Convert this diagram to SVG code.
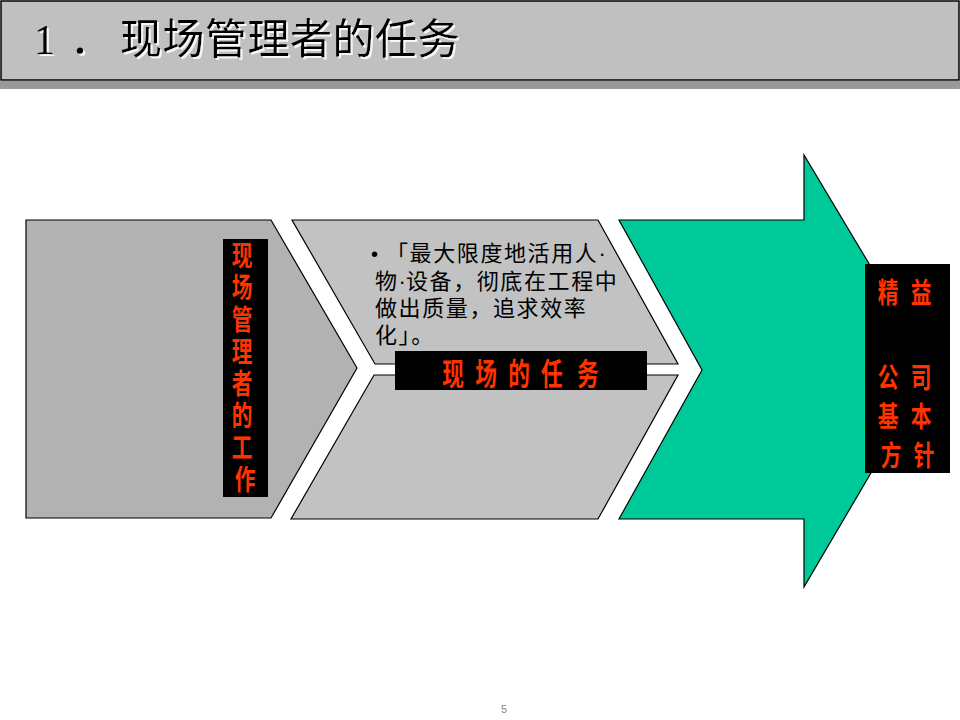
<svg xmlns="http://www.w3.org/2000/svg" width="960" height="720" viewBox="0 0 960 720">
<defs>
<filter id="tshadow" x="-5%" y="-20%" width="110%" height="140%">
<feOffset in="SourceAlpha" dx="2" dy="2" result="off"/>
<feFlood flood-color="#ffffff" flood-opacity="0.85"/>
<feComposite in2="off" operator="in" result="sh"/>
<feMerge><feMergeNode in="sh"/><feMergeNode in="SourceGraphic"/></feMerge>
</filter>
</defs>
<style>
.title{font-family:"Liberation Serif","Noto Sans CJK SC",serif;font-size:42px;fill:#000}
.shape{stroke:#000;stroke-width:1.2}
.red{font-family:"Liberation Sans","Noto Sans CJK SC",sans-serif;font-weight:bold;fill:#FF3300;text-anchor:middle}
.body{font-family:"Liberation Sans","Noto Sans CJK SC",sans-serif;font-size:22px;fill:#000;letter-spacing:1.6px}
</style>
<rect width="960" height="720" fill="#ffffff"/>
<g id="title-bar">
<rect x="0" y="81" width="960" height="8" fill="#999999"/>
<rect x="1" y="1" width="958" height="79" fill="#c0c0c0" stroke="#000" stroke-width="1.5"/>
<text class="title" x="34" y="54" filter="url(#tshadow)">1<tspan x="70">．</tspan><tspan x="120" letter-spacing="0.5">现场管理者的任务</tspan></text>
</g>
<g id="left-shape">
<polygon class="shape" points="26,220 271,220 357,368 271,518 26,518" fill="#b2b2b2"/>
</g>
<g id="middle-top">
<polygon class="shape" points="292,220 598,220 678,364 375,364" fill="#c2c2c2"/>
<text class="body" x="371" y="261"><tspan font-size="20" letter-spacing="0">•</tspan><tspan x="386">「最大限度地活用人</tspan><tspan letter-spacing="0">·</tspan></text>
<text class="body" x="375" y="289">物<tspan letter-spacing="0">·</tspan>设备，彻底在工程中</text>
<text class="body" x="375" y="316">做出质量，追求效率</text>
<text class="body" x="375" y="343">化」。</text>
</g>
<g id="middle-bottom">
<polygon class="shape" points="374,375 678,375 598,519 291,519" fill="#c2c2c2"/>
</g>
<g id="green-arrow">
<polygon class="shape" points="619,220 804,220 804,155 932,369 804,587 804,519 619,519 702,370" fill="#00C999"/>
</g>
<g id="left-label">
<rect x="223" y="239" width="45" height="258" fill="#000"/>
<g transform="translate(245,0) scale(0.74,1)">
<text class="red" font-size="28">
<tspan x="0" y="266">现</tspan>
<tspan x="0" y="298">场</tspan>
<tspan x="0" y="330">管</tspan>
<tspan x="0" y="362">理</tspan>
<tspan x="0" y="394">者</tspan>
<tspan x="0" y="426">的</tspan>
<tspan x="0" y="458">工</tspan>
<tspan x="0" y="490">作</tspan>
</text>
</g>
</g>
<g id="middle-label">
<rect x="395" y="351" width="252" height="39" fill="#000"/>
<g transform="translate(522,0) scale(0.7,1)">
<text class="red" font-size="31">
<tspan x="-94" y="385">现</tspan>
<tspan x="-47" y="385">场</tspan>
<tspan x="0" y="385">的</tspan>
<tspan x="47" y="385">任</tspan>
<tspan x="94" y="385">务</tspan>
</text>
</g>
</g>
<g id="right-label">
<rect x="865" y="264" width="85" height="209" fill="#000"/>
<g transform="translate(891,0) scale(0.74,1)">
<text class="red" font-size="28">
<tspan x="0" y="303">精</tspan>
<tspan x="0" y="388">公</tspan>
<tspan x="0" y="427">基</tspan>
<tspan x="0" y="466">方</tspan>
</text>
</g>
<g transform="translate(924,0) scale(0.74,1)">
<text class="red" font-size="28">
<tspan x="0" y="303">益</tspan>
<tspan x="0" y="388">司</tspan>
<tspan x="0" y="427">本</tspan>
<tspan x="0" y="466">针</tspan>
</text>
</g>
</g>
<g id="connectors"/>
<text x="504" y="713" font-family="Liberation Sans, sans-serif" font-size="11" fill="#888888" text-anchor="middle">5</text>
</svg>
